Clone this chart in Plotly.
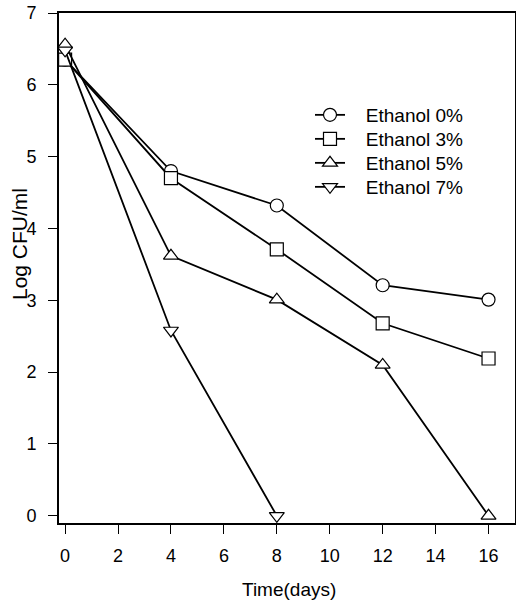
import plotly.graph_objects as go

days = [0, 4, 8, 12, 16]
days_7 = [0, 4, 8]
eth0 = [6.35, 4.80, 4.32, 3.21, 3.01]
eth3 = [6.35, 4.70, 3.71, 2.68, 2.19]
eth5 = [6.56, 3.62, 3.01, 2.10, 0.0]
eth7 = [6.48, 2.58, 0.0]
names = ["Ethanol 0%", "Ethanol 3%", "Ethanol 5%", "Ethanol 7%"]
symbols = ["circle", "square", "triangle-up", "triangle-down"]
x_ticks = [0, 2, 4, 6, 8, 10, 12, 14, 16]
y_ticks = [0, 1, 2, 3, 4, 5, 6, 7]

FONT = "Liberation Sans, Arial, sans-serif"
W, H = 516, 603
L, T = 59, 13
R = W - 515
B = H - 523
PW, PH = W - L - R, H - T - B

def px_x(p):
    return (p - L) / PW

def px_y(p):
    return (H - B - p) / PH

fig = go.Figure()
series = [(days, eth0), (days, eth3), (days, eth5), (days_7, eth7)]
legend_ids = ["legend", "legend2", "legend3", "legend4"]
for (xs, ys), name, sym, lg in zip(series, names, symbols, legend_ids):
    fig.add_trace(go.Scatter(
        x=xs, y=ys, name="\u00a0\u00a0\u00a0" + name, mode="lines+markers", legend=lg,
        line=dict(color="black", width=1.8),
        marker=dict(symbol=sym, size=13, color="white",
                    line=dict(color="black", width=1.2)),
    ))

legend_rows = [115, 139, 163, 187]
legend_layout = {}
for lg, row in zip(legend_ids, legend_rows):
    legend_layout[lg] = dict(x=px_x(310), y=px_y(row), xanchor="left", yanchor="middle",
                             bgcolor="rgba(0,0,0,0)", font=dict(size=19, family=FONT),
                             borderwidth=0)

fig.update_layout(
    width=W, height=H,
    margin=dict(l=L, r=R, t=T, b=B),
    paper_bgcolor="white", plot_bgcolor="white",
    font=dict(family=FONT, size=18, color="black"),
    showlegend=True,
    xaxis=dict(range=[-0.23, 17.0], tickvals=x_ticks, ticks="outside", ticklen=9,
               tickwidth=1.2, tickcolor="black", showline=True, linecolor="black",
               linewidth=2, mirror=True, showgrid=False, zeroline=False,
               automargin=False, ticklabelstandoff=6,
               tickfont=dict(size=18)),
    yaxis=dict(range=[-0.1, 7.0], tickvals=y_ticks, ticks="outside", ticklen=9,
               tickwidth=1.2, tickcolor="black", showline=True, linecolor="black",
               linewidth=2, mirror=True, showgrid=False, zeroline=False,
               automargin=False, ticklabelstandoff=8,
               tickfont=dict(size=18)),
    annotations=[
        dict(text="Log CFU/ml", textangle=-90, xref="paper", yref="paper",
             x=px_x(20), y=px_y(244), xanchor="center", yanchor="middle",
             showarrow=False, font=dict(size=21, family=FONT)),
        dict(text="Time(days)", xref="paper", yref="paper",
             x=px_x(289), y=px_y(589), xanchor="center", yanchor="middle",
             showarrow=False, font=dict(size=19, family=FONT)),
    ],
    **legend_layout,
)
fig.write_html("out.html",
               config={"displayModeBar": False},
               post_script="document.body.style.margin='0';document.body.style.overflow='hidden';")
